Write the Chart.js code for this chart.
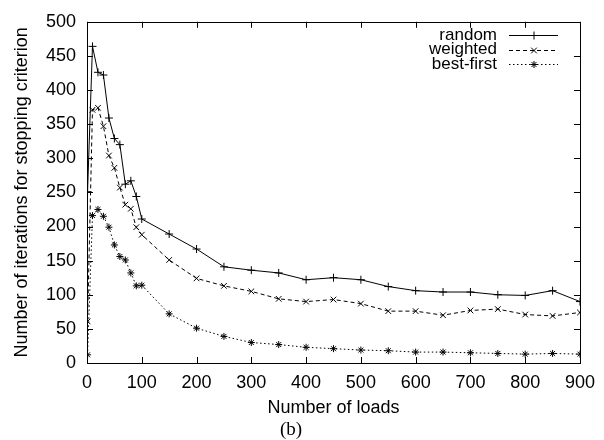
<!DOCTYPE html>
<html>
<head>
<meta charset="utf-8">
<script src="https://cdn.jsdelivr.net/npm/chart.js@4.4.0/dist/chart.umd.min.js"></script>
<style>
  html, body { margin: 0; padding: 0; background: #fff; }
</style>
</head>
<body>
<canvas id="lossChart" width="604" height="440"></canvas>
<script>
// number of loads (x)
const loads = [1, 10, 20, 30, 40, 50, 60, 70, 80, 90, 100,
  150, 200, 250, 300, 350, 400, 450, 500, 550, 600, 650, 700, 750, 800, 850, 900];
// iterations for stopping criterion
const randomIters = [251, 464, 426, 422, 359, 329, 320, 262, 267, 244, 211,
  189, 167, 141, 136, 132, 122, 125, 122, 112, 106, 104, 104, 100, 99, 106, 90];
const weightedIters = [61, 371, 374, 347, 304, 286, 257, 232, 226, 199, 188,
  151, 124, 113, 105, 94, 90, 93, 87, 76, 76, 70, 77, 79, 71, 69, 74];
const bestFirstIters = [12, 216, 225, 215, 199, 173, 156, 151, 132, 113, 114,
  72, 51, 39, 30, 27, 23, 21, 19, 18, 16, 16, 15, 14, 13, 14, 13];
const seriesNames = ['random', 'weighted', 'best-first'];
const xTicks = [0, 100, 200, 300, 400, 500, 600, 700, 800, 900];
const yTicks = [0, 50, 100, 150, 200, 250, 300, 350, 400, 450, 500];

const FONT = 'Liberation Sans, Arial, Helvetica, sans-serif';

function toPoints(ys) {
  return loads.map((x, i) => ({ x: x, y: ys[i] }));
}

// gnuplot style frame with inward ticks on all four sides
const frameTicks = {
  id: 'frameTicks',
  afterDatasetsDraw(chart) {
    const { ctx, chartArea: a, scales } = chart;
    ctx.save();
    ctx.strokeStyle = '#000';
    ctx.lineWidth = 1;
    ctx.beginPath();
    xTicks.forEach(v => {
      const px = Math.round(scales.x.getPixelForValue(v)) + 0.5;
      ctx.moveTo(px, a.bottom); ctx.lineTo(px, a.bottom - 6);
      ctx.moveTo(px, a.top); ctx.lineTo(px, a.top + 6);
    });
    yTicks.forEach(v => {
      const py = Math.round(scales.y.getPixelForValue(v)) + 0.5;
      ctx.moveTo(a.left, py); ctx.lineTo(a.left + 6, py);
      ctx.moveTo(a.right, py); ctx.lineTo(a.right - 6, py);
    });
    ctx.stroke();
    ctx.strokeRect(Math.round(a.left) + 0.5, Math.round(a.top) + 0.5,
      Math.round(a.right - a.left), Math.round(a.bottom - a.top));
    ctx.restore();
  }
};

// legend: text right aligned, sample line to the right
const keyBox = {
  id: 'keyBox',
  afterDatasetsDraw(chart) {
    const { ctx } = chart;
    ctx.save();
    ctx.font = '17px ' + FONT;
    ctx.fillStyle = '#000';
    ctx.textAlign = 'right';
    ctx.textBaseline = 'middle';
    chart.data.datasets.forEach((ds, i) => {
      const y = 35 + i * 14.5;
      ctx.fillText(ds.label, 497, y);
      ctx.save();
      ctx.strokeStyle = '#000';
      ctx.lineWidth = 1;
      ctx.setLineDash(ds.borderDash || []);
      ctx.beginPath();
      ctx.moveTo(509, Math.round(y) + 0.5);
      ctx.lineTo(558, Math.round(y) + 0.5);
      ctx.stroke();
      ctx.setLineDash([]);
      Chart.helpers.drawPoint(ctx, {
        pointStyle: ds.pointStyle, radius: ds.pointRadius, borderWidth: ds.pointBorderWidth, rotation: 0
      }, 534, Math.round(y) + 0.5);
      ctx.restore();
    });
    ctx.restore();
  }
};

const ctx = document.getElementById('lossChart').getContext('2d');
const lossChart = new Chart(ctx, {
  type: 'line',
  data: {
    datasets: [{
      label: seriesNames[0],
      data: toPoints(randomIters),
      borderColor: '#000',
      borderWidth: 1,
      pointStyle: 'cross',
      pointRadius: 4,
      pointBorderWidth: 1,
      pointBorderColor: '#000',
      pointBackgroundColor: '#000'
    }, {
      label: seriesNames[1],
      data: toPoints(weightedIters),
      borderColor: '#000',
      borderWidth: 1,
      borderDash: [4, 3],
      pointStyle: 'crossRot',
      pointRadius: 4,
      pointBorderWidth: 1,
      pointBorderColor: '#000',
      pointBackgroundColor: '#000'
    }, {
      label: seriesNames[2],
      data: toPoints(bestFirstIters),
      borderColor: '#000',
      borderWidth: 1,
      borderDash: [1.5, 2.5],
      pointStyle: 'star',
      pointRadius: 3.5,
      pointBorderWidth: 1,
      pointBorderColor: '#000',
      pointBackgroundColor: '#000'
    }]
  },
  options: {
    responsive: false,
    animation: false,
    devicePixelRatio: 1,
    layout: { padding: { top: 18, right: 22, left: 0, bottom: 0 } },
    plugins: {
      legend: { display: false },
      tooltip: { enabled: false },
      title: {
        display: true,
        position: 'bottom',
        text: '(b)',
        color: '#000',
        padding: 0,
        font: { family: 'Liberation Serif, Times New Roman, serif', size: 19, weight: 'normal', lineHeight: 1 }
      }
    },
    scales: {
      x: {
        type: 'linear',
        min: 0,
        max: 900,
        afterBuildTicks: s => { s.ticks = xTicks.map(v => ({ value: v })); },
        afterFit: s => { s.height = 58; },
        grid: { display: false, drawTicks: false },
        border: { display: false },
        ticks: { color: '#000', padding: 9, maxRotation: 0, font: { family: FONT, size: 18 } },
        title: {
          display: true,
          text: 'Number of loads',
          color: '#000',
          padding: { top: 0, bottom: 2 },
          font: { family: FONT, size: 18 }
        }
      },
      y: {
        min: 0,
        max: 500,
        afterBuildTicks: s => { s.ticks = yTicks.map(v => ({ value: v })); },
        afterFit: s => { s.width = 87; },
        grid: { display: false, drawTicks: false },
        border: { display: false },
        ticks: { color: '#000', padding: 11, font: { family: FONT, size: 18 } },
        title: {
          display: true,
          text: 'Number of iterations for stopping criterion',
          color: '#000',
          padding: { top: 11, bottom: 0 },
          font: { family: FONT, size: 18 }
        }
      }
    }
  },
  plugins: [frameTicks, keyBox]
});
</script>
</body>
</html>
